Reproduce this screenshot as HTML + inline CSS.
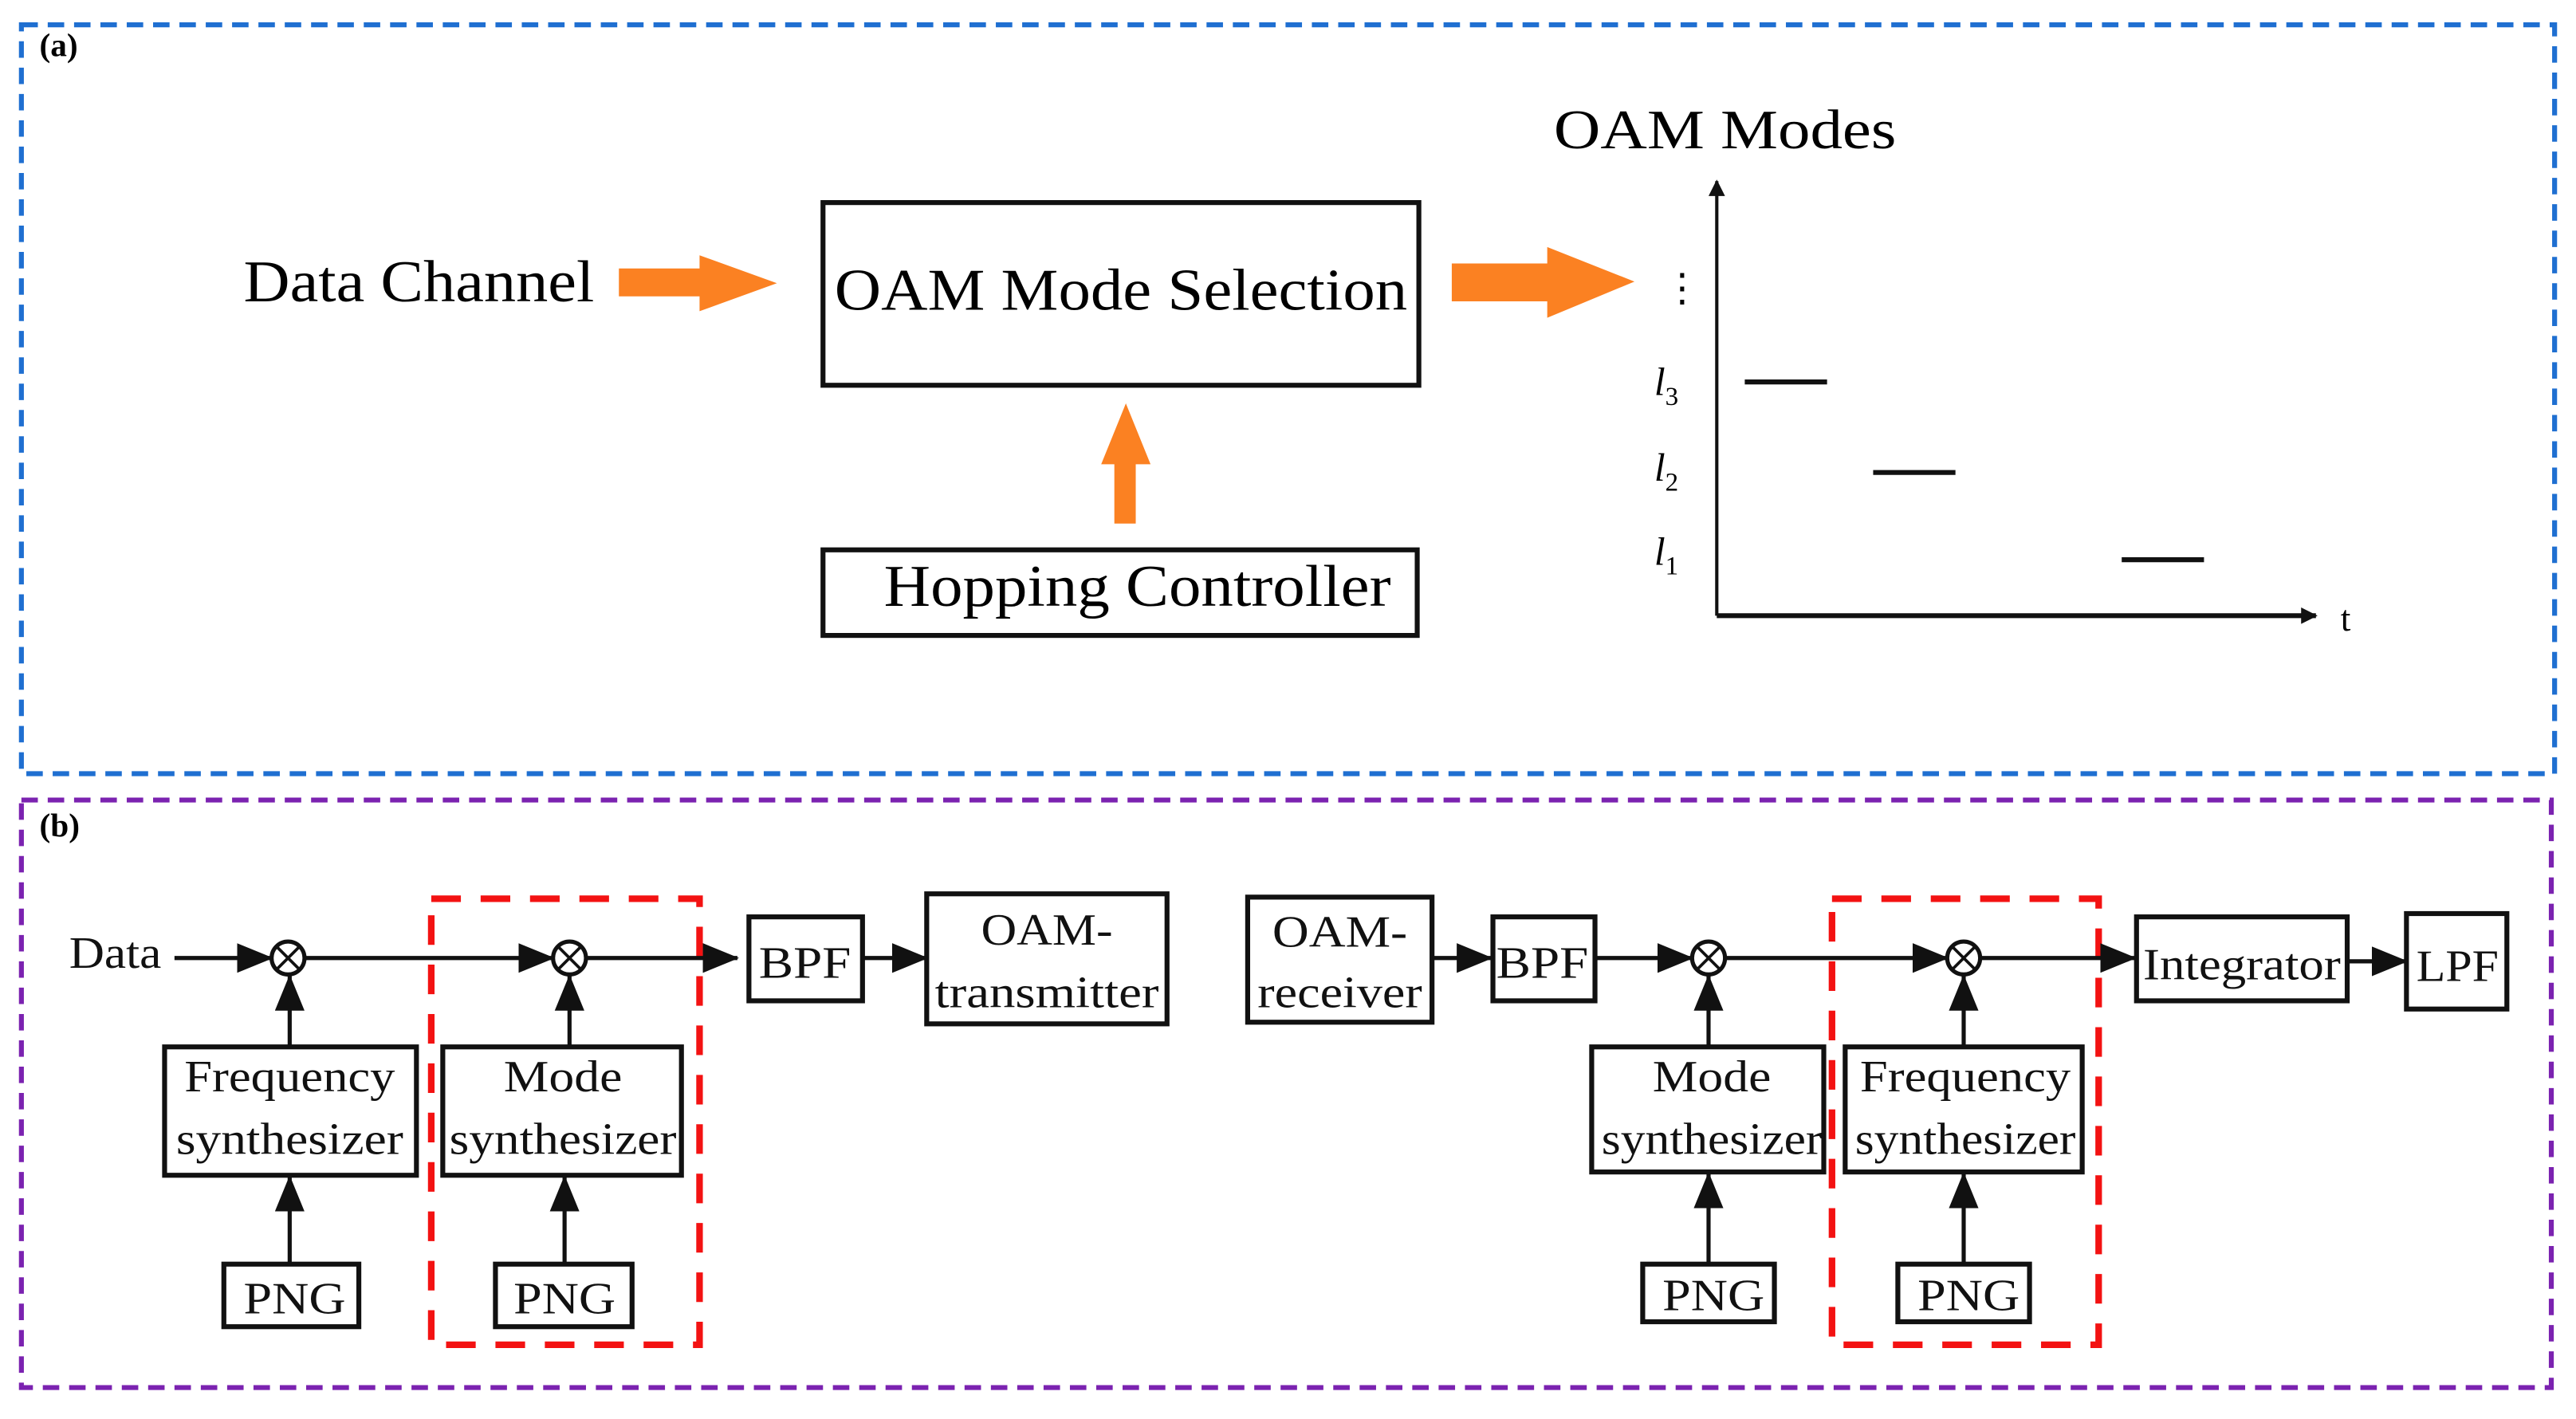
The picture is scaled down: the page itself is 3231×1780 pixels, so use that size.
<!DOCTYPE html>
<html><head><meta charset="utf-8"><style>html,body{margin:0;padding:0;background:#fff}svg{display:block}svg text{font-family:"Liberation Serif",serif}</style></head>
<body>
<svg width="3231" height="1780" viewBox="0 0 1565 862" xmlns="http://www.w3.org/2000/svg">
<defs>
<marker id="ah" markerWidth="10" markerHeight="10" refX="9" refY="5" orient="auto" markerUnits="userSpaceOnUse" viewBox="0 0 10 10"><path d="M0,0 L10,5 L0,10 z" fill="#111"/></marker>
<marker id="bh" markerWidth="22" markerHeight="18" refX="21" refY="9" orient="auto" markerUnits="userSpaceOnUse"><path d="M0,0 L22,9 L0,18 z" fill="#111"/></marker>
</defs>
<rect x="13" y="15" width="1539" height="455" fill="none" stroke="#1f6fd1" stroke-width="3" stroke-dasharray="10,6"/>
<text x="24" y="34" font-size="20" font-weight="bold">(a)</text>
<text x="148" y="183" font-size="36" textLength="213" lengthAdjust="spacingAndGlyphs">Data Channel</text>
<polygon points="376,163 425,163 425,155 472,172 425,189 425,180 376,180" fill="#fb8122"/>
<rect x="500" y="123" width="362" height="111" fill="none" stroke="#111" stroke-width="3"/>
<text x="681" y="188" font-size="36" text-anchor="middle" textLength="348" lengthAdjust="spacingAndGlyphs">OAM Mode Selection</text>
<polygon points="882,160 940,160 940,150 993,171 940,193 940,183 882,183" fill="#fb8122"/>
<polygon points="677,318 677,282 669,282 684,245 699,282 690,282 690,318" fill="#fb8122"/>
<rect x="500" y="334" width="361" height="52" fill="none" stroke="#111" stroke-width="3"/>
<text x="537" y="368" font-size="36" textLength="308" lengthAdjust="spacingAndGlyphs">Hopping Controller</text>
<text x="944" y="90" font-size="34" textLength="208" lengthAdjust="spacingAndGlyphs">OAM Modes</text>
<line x1="1043" y1="374" x2="1043" y2="110" stroke="#111" stroke-width="2" marker-end="url(#ah)"/>
<line x1="1043" y1="374" x2="1407" y2="374" stroke="#111" stroke-width="3" marker-end="url(#ah)"/>
<text x="1422" y="383" font-size="22">t</text>
<text x="1010" y="183" font-size="24">⋮</text>
<text x="1005" y="240" font-size="24" font-style="italic">l<tspan font-size="16" dy="6" font-style="normal">3</tspan></text>
<text x="1005" y="292" font-size="24" font-style="italic">l<tspan font-size="16" dy="6" font-style="normal">2</tspan></text>
<text x="1005" y="343" font-size="24" font-style="italic">l<tspan font-size="16" dy="6" font-style="normal">1</tspan></text>
<line x1="1060" y1="232" x2="1110" y2="232" stroke="#111" stroke-width="3"/>
<line x1="1138" y1="287" x2="1188" y2="287" stroke="#111" stroke-width="3"/>
<line x1="1289" y1="340" x2="1339" y2="340" stroke="#111" stroke-width="3"/>

<rect x="13" y="486" width="1537" height="357" fill="none" stroke="#7b22b0" stroke-width="3" stroke-dasharray="10,6"/>
<text x="24" y="508" font-size="20" font-weight="bold">(b)</text>
<rect x="262" y="546" width="163" height="271" fill="none" stroke="#f31212" stroke-width="4" stroke-dasharray="18,12"/>
<rect x="1113" y="546" width="162" height="271" fill="none" stroke="#f31212" stroke-width="4" stroke-dasharray="18,12"/>

<g stroke="#111" stroke-width="2.5" fill="none">
<line x1="106" y1="582" x2="165" y2="582" marker-end="url(#bh)"/>
<line x1="185" y1="582" x2="336" y2="582" marker-end="url(#bh)"/>
<line x1="356" y1="582" x2="448" y2="582" marker-end="url(#bh)"/>
<line x1="524" y1="582" x2="563" y2="582" marker-end="url(#bh)"/>
<line x1="870" y1="582" x2="906" y2="582" marker-end="url(#bh)"/>
<line x1="969" y1="582" x2="1028" y2="582" marker-end="url(#bh)"/>
<line x1="1048" y1="582" x2="1183" y2="582" marker-end="url(#bh)"/>
<line x1="1203" y1="582" x2="1297" y2="582" marker-end="url(#bh)"/>
<line x1="1426" y1="584" x2="1462" y2="584" marker-end="url(#bh)"/>
<line x1="176" y1="636" x2="176" y2="593" marker-end="url(#bh)"/>
<line x1="346" y1="636" x2="346" y2="593" marker-end="url(#bh)"/>
<line x1="1038" y1="636" x2="1038" y2="593" marker-end="url(#bh)"/>
<line x1="1193" y1="636" x2="1193" y2="593" marker-end="url(#bh)"/>
<line x1="176" y1="768" x2="176" y2="715" marker-end="url(#bh)"/>
<line x1="343" y1="768" x2="343" y2="715" marker-end="url(#bh)"/>
<line x1="1038" y1="768" x2="1038" y2="713" marker-end="url(#bh)"/>
<line x1="1193" y1="768" x2="1193" y2="713" marker-end="url(#bh)"/>
<g fill="#fff">
<circle cx="175" cy="582" r="10"/><circle cx="346" cy="582" r="10"/>
<circle cx="1038" cy="582" r="10"/><circle cx="1193" cy="582" r="10"/>
</g>
<path d="M168,575 L182,589 M182,575 L168,589 M339,575 L353,589 M353,575 L339,589 M1031,575 L1045,589 M1045,575 L1031,589 M1186,575 L1200,589 M1200,575 L1186,589" stroke-width="1.8"/>
<g stroke-width="3">
<rect x="455" y="557" width="69" height="51"/>
<rect x="563" y="543" width="146" height="79"/>
<rect x="100" y="636" width="153" height="78"/>
<rect x="269" y="636" width="145" height="78"/>
<rect x="136" y="768" width="82" height="38"/>
<rect x="301" y="768" width="83" height="38"/>
<rect x="758" y="545" width="112" height="76"/>
<rect x="907" y="557" width="62" height="51"/>
<rect x="1298" y="557" width="128" height="51"/>
<rect x="1462" y="555" width="61" height="58"/>
<rect x="967" y="636" width="141" height="76"/>
<rect x="1121" y="636" width="144" height="76"/>
<rect x="998" y="768" width="80" height="35"/>
<rect x="1153" y="768" width="80" height="35"/>
</g>
</g>
<g font-size="27" fill="#111" text-anchor="middle">
<text x="70" y="588" textLength="56" lengthAdjust="spacingAndGlyphs">Data</text>
<text x="489" y="594" textLength="56" lengthAdjust="spacingAndGlyphs">BPF</text>
<text x="636" y="574" textLength="80" lengthAdjust="spacingAndGlyphs">OAM-</text>
<text x="636" y="612" textLength="136" lengthAdjust="spacingAndGlyphs">transmitter</text>
<text x="176" y="663" textLength="128" lengthAdjust="spacingAndGlyphs">Frequency</text>
<text x="176" y="701" textLength="138" lengthAdjust="spacingAndGlyphs">synthesizer</text>
<text x="342" y="663" textLength="72" lengthAdjust="spacingAndGlyphs">Mode</text>
<text x="342" y="701" textLength="138" lengthAdjust="spacingAndGlyphs">synthesizer</text>
<text x="179" y="798" textLength="62" lengthAdjust="spacingAndGlyphs">PNG</text>
<text x="343" y="798" textLength="62" lengthAdjust="spacingAndGlyphs">PNG</text>
<text x="814" y="575" textLength="82" lengthAdjust="spacingAndGlyphs">OAM-</text>
<text x="814" y="612" textLength="100" lengthAdjust="spacingAndGlyphs">receiver</text>
<text x="937" y="594" textLength="56" lengthAdjust="spacingAndGlyphs">BPF</text>
<text x="1362" y="595" textLength="120" lengthAdjust="spacingAndGlyphs">Integrator</text>
<text x="1493" y="596" textLength="50" lengthAdjust="spacingAndGlyphs">LPF</text>
<text x="1040" y="663" textLength="72" lengthAdjust="spacingAndGlyphs">Mode</text>
<text x="1040" y="701" textLength="134" lengthAdjust="spacingAndGlyphs">synthesizer</text>
<text x="1194" y="663" textLength="128" lengthAdjust="spacingAndGlyphs">Frequency</text>
<text x="1194" y="701" textLength="134" lengthAdjust="spacingAndGlyphs">synthesizer</text>
<text x="1041" y="796" textLength="62" lengthAdjust="spacingAndGlyphs">PNG</text>
<text x="1196" y="796" textLength="62" lengthAdjust="spacingAndGlyphs">PNG</text>
</g>
</svg>
</body></html>
